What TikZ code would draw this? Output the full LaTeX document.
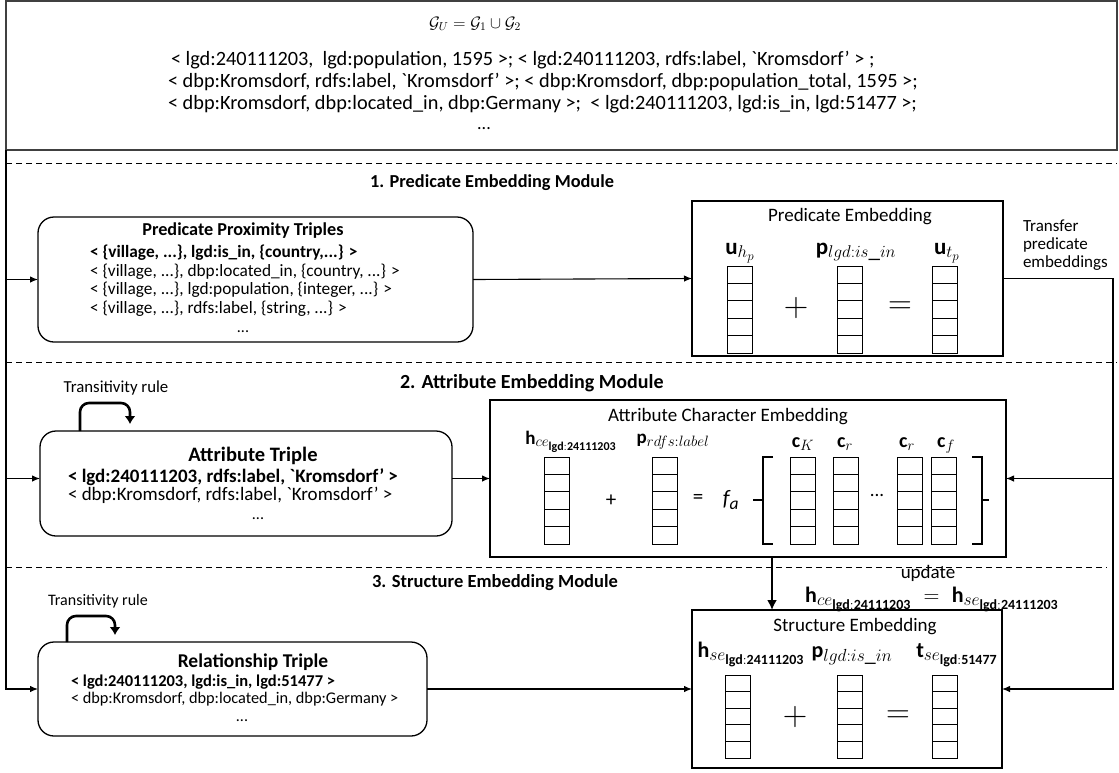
\documentclass[tikz,border=0pt]{standalone}
\usepackage{fix-cm}
\usepackage{fontspec}
\setmainfont{Carlito}[Ligatures=TeXOff]
\usetikzlibrary{arrows.meta,calc}
\newcommand\fsz[2]{\fontsize{#1}{#2}\selectfont}
\DeclareMathSizes{23}{23}{17}{13}
\DeclareMathSizes{19}{19}{15}{12}
\DeclareMathSizes{20}{20}{15}{12}
\DeclareMathSizes{22}{22}{17.5}{14}
\begin{document}
\begin{tikzpicture}[x=1pt,y=-1pt,
  every node/.style={inner sep=0pt, outer sep=0pt},
  tbox/.style={draw, line width=1.3pt, rounded corners=16pt},
  ebox/.style={draw, line width=1.3pt},
  conn/.style={line width=1.1pt, -{Latex[length=8pt,width=6.5pt]}},
  loopy/.style={line width=2.6pt, rounded corners=9pt, -{Latex[length=8pt,width=11pt]}},
  bigarrow/.style={line width=2pt, -{Latex[length=10pt,width=10pt]}},
  sep/.style={line width=1pt, dash pattern=on 6pt off 4pt},
  brk/.style={line width=2.6pt},
  veccol/.style={draw, line width=1pt, minimum width=25pt, minimum height=#1,
    path picture={\foreach \k in {0.2,0.4,0.6,0.8}{\draw[line width=1pt]
      ($(path picture bounding box.north west)!\k!(path picture bounding box.south west)$) --
      ($(path picture bounding box.north east)!\k!(path picture bounding box.south east)$);}}},
  veccol/.default=87pt,
  tln/.style={anchor=west, font=\fsz{17.3}{20}},
  tlb/.style={anchor=west, font=\fsz{17.3}{20}\bfseries},
  etl/.style={font=\fsz{19}{22}},
  sect/.style={anchor=west, font=\fsz{#1}{22}\bfseries},
  toptxt/.style={anchor=west, font=\fsz{20.3}{23}},
  dots/.style={font=\fsz{16}{18}},
  lab/.style={anchor=base},
]
\useasboundingbox (0,0) rectangle (1119,772);

% ---------- top box ----------
\node[draw=black!75, line width=1.3pt, minimum width=1111pt, minimum height=149pt, anchor=north west] (top) at (6,1) {};
\node[font=\fsz{16.5}{20}] (gu) at (475,24) {$\mathcal{G}_U = \mathcal{G}_1 \cup \mathcal{G}_2$};
\node[toptxt] (t1) at (171,60) {< lgd:240111203,\ \ lgd:population, 1595 >; < lgd:240111203, rdfs:label, `Kromsdorf’ > ;};
\node[toptxt] (t2) at (168,82) {< dbp:Kromsdorf, rdfs:label, `Kromsdorf’ >; < dbp:Kromsdorf, dbp:population\_total, 1595 >;};
\node[toptxt] (t3) at (168,104) {< dbp:Kromsdorf, dbp:located\_in, dbp:Germany >;\ \ < lgd:240111203, lgd:is\_in, lgd:51477 >;};
\node[font=\fsz{18}{20}] (t4) at (484,129) {...};

% ---------- separators ----------
\draw[sep] (6,163) -- (1117,163);
\draw[sep] (6,362) -- (1117,362);
\draw[sep] (6,567) -- (1107,567);

\node[sect=18.3] (s1) at (370,183) {1. Predicate Embedding Module};
\node[sect=20] (s2) at (400,383) {2. Attribute Embedding Module};
\node[sect=18.5] (s3) at (372,583) {3. Structure Embedding Module};

% ---------- 1. predicate ----------
\node[tbox, minimum width=435pt, minimum height=125pt] (ptb) at (255.5,279.5) {};
\node[font=\fsz{18.2}{22}\bfseries] (ptt) at (243,231) {Predicate Proximity Triples};
\node[tlb] (pl1) at (90,253) {< \{village, ...\}, lgd:is\_in, \{country,...\} >};
\node[tln] (pl2) at (90,271.5) {< \{village, ...\}, dbp:located\_in, \{country, ...\} >};
\node[tln] (pl3) at (90,290) {< \{village, ...\}, lgd:population, \{integer, ...\} >};
\node[tln] (pl4) at (90,308.5) {< \{village, ...\}, rdfs:label, \{string, ...\} >};
\node[dots] (pl5) at (243,332) {...};

\node[ebox, minimum width=311pt, minimum height=155pt] (pe) at (847.5,278.5) {};
\node[etl] (pet) at (850,217) {Predicate Embedding};
\node[lab, font=\fsz{23}{26}] (pu1) at (740,254) {$\mathbf{u}_{h_p}$};
\node[lab, font=\fsz{23}{26}] (pp1) at (856,254) {$\mathbf{p}_{lgd{:}is\_in}$};
\node[lab, font=\fsz{23}{26}] (pu2) at (947,254) {$\mathbf{u}_{t_p}$};
\node[veccol] (pv1) at (740,309.5) {};
\node[veccol] (pv2) at (849.5,309.5) {};
\node[veccol] (pv3) at (945,309.5) {};
\node[font=\fsz{34}{38}] (pplus) at (796,308) {$+$};
\node[font=\fsz{33}{38}] (peq) at (900,308) {$=$};

\node[anchor=north west, align=left, font=\fsz{17}{18}] (transfer) at (1023,220) {Transfer\\predicate\\embeddings};

% ---------- 2. attribute ----------
\node[tbox, minimum width=412pt, minimum height=105pt] (atb) at (246,483.5) {};
\node[font=\fsz{20.5}{24}\bfseries] (att) at (253,456) {Attribute Triple};
\node[anchor=west, font=\fsz{19}{22}\bfseries] (al1) at (68,477) {< lgd:240111203, rdfs:label, `Kromsdorf’ >};
\node[anchor=west, font=\fsz{19}{22}] (al2) at (68,495.5) {< dbp:Kromsdorf, rdfs:label, `Kromsdorf’ >};
\node[dots] (al3) at (258,519) {...};
\node[font=\fsz{16.8}{19}] (tr1) at (116,388) {Transitivity rule};
\coordinate (lp1) at (80,0);
\draw[loopy] (atb.north -| lp1) -- ++(0,-28) -- ++(50,0) -- ++(0,21);

\node[ebox, minimum width=516pt, minimum height=157pt] (acb) at (748,478.5) {};
\node[etl] (act) at (728,417) {Attribute Character Embedding};
\node[lab, font=\fsz{19}{22}] (ah) at (571,444) {$\mathbf{h}_{ce_{\mathbf{lgd{:}24111203}}}$};
\node[lab, font=\fsz{19}{22}] (ap) at (673,443) {$\mathbf{p}_{rdfs{:}label}$};
\node[lab, font=\fsz{20}{23}] (ac1) at (803,447) {$\mathbf{c}_K$};
\node[lab, font=\fsz{20}{23}] (ac2) at (845,447) {$\mathbf{c}_r$};
\node[lab, font=\fsz{20}{23}] (ac3) at (907,447) {$\mathbf{c}_r$};
\node[lab, font=\fsz{20}{23}] (ac4) at (946,447) {$\mathbf{c}_f$};
\node[veccol] (av1) at (556.5,500.5) {};
\node[veccol] (av2) at (664.5,500.5) {};
\node[veccol] (av3) at (802.5,500.5) {};
\node[veccol] (av4) at (845.5,500.5) {};
\node[veccol] (av5) at (909.5,500.5) {};
\node[veccol] (av6) at (944,500.5) {};
\node[font=\fsz{21}{24}] (aplus) at (611,501) {+};
\node[font=\fsz{21}{24}] (aeq) at (698,499) {=};
\node[font=\fsz{22}{24}\itshape] (fa) at (731,500) {f\textsubscript{a}};
\node[font=\fsz{19}{22}] (adots) at (877,495) {...};
\draw[brk] (773,457) -- (763,457) -- (763,544) -- (773,544);
\draw[brk] (763,500) -- (753,500);
\draw[brk] (972,457) -- (982,457) -- (982,544) -- (972,544);
\draw[brk] (982,500) -- (989,500);

% ---------- 3. structure ----------
\node[tbox, minimum width=389pt, minimum height=94pt] (rtb) at (232.5,689) {};
\node[font=\fsz{19.5}{23}\bfseries] (rtt) at (253,662) {Relationship Triple};
\node[anchor=west, font=\fsz{16.5}{19}\bfseries] (rl1) at (71,682) {< lgd:240111203, lgd:is\_in, lgd:51477 >};
\node[anchor=west, font=\fsz{16.3}{19}] (rl2) at (71,699.5) {< dbp:Kromsdorf, dbp:located\_in, dbp:Germany >};
\node[dots] (rl3) at (242,721) {...};
\node[font=\fsz{16}{19}] (tr2) at (98,601) {Transitivity rule};
\coordinate (lp2) at (67,0);
\draw[loopy] (rtb.north -| lp2) -- ++(0,-26) -- ++(48,0) -- ++(0,19);

\node[ebox, minimum width=310pt, minimum height=158pt] (se) at (847,689) {};
\node[etl] (set) at (855,627) {Structure Embedding};
\node[lab, font=\fsz{22}{25}] (sh) at (751,657) {$\mathbf{h}_{se_{\mathbf{lgd{:}24111203}}}$};
\node[lab, font=\fsz{22}{25}] (sp) at (852,657) {$\mathbf{p}_{lgd{:}is\_in}$};
\node[lab, font=\fsz{22}{25}] (st) at (957,657) {$\mathbf{t}_{se_{\mathbf{lgd{:}51477}}}$};
\node[veccol=83pt] (sv1) at (738,716.5) {};
\node[veccol=83pt] (sv2) at (849.5,716.5) {};
\node[veccol=83pt] (sv3) at (944.5,716.5) {};
\node[font=\fsz{34}{38}] (splus) at (795,717) {$+$};
\node[font=\fsz{33}{38}] (seq) at (898,717) {$=$};

\node[font=\fsz{19}{22}] (upd) at (928,573) {update};
\node[lab, font=\fsz{22}{25}] (updeq) at (932,602) {$\mathbf{h}_{ce_{\mathbf{lgd{:}24111203}}} \;=\; \mathbf{h}_{se_{\mathbf{lgd{:}24111203}}}$};

% ---------- connectors ----------
\draw[conn] (top.south west) |- (rtb.west);
\draw[conn] (top.west |- ptb.west) -- (ptb.west);
\draw[conn] (top.west |- acb.west) -- (atb.west |- acb.west);
\draw[conn] (ptb.east) -- (pe.west);
\draw[conn] (atb.east |- acb.west) -- (acb.west);
\draw[conn] (rtb.east) -- (se.west);
\coordinate (R) at (1113,0);
\draw[conn] (pe.east) -| (R |- se.east) -- (se.east);
\draw[conn] (R |- acb.east) -- (acb.east);
\coordinate (D) at (772,0);
\draw[bigarrow] (acb.south -| D) -- (se.north -| D);
\end{tikzpicture}
\end{document}
